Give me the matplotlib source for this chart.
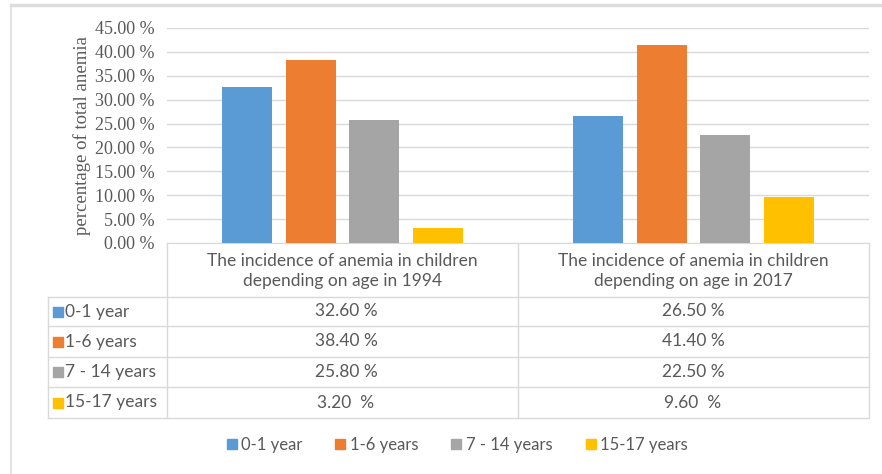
import matplotlib.pyplot as plt
from matplotlib.lines import Line2D
import numpy as np

groups = ['The incidence of anemia in children\ndepending on age in 1994',
          'The incidence of anemia in children\ndepending on age in 2017']
ages = ['0-1 year', '1-6 years', '7 - 14 years', '15-17 years']
val_1994 = [32.6, 38.4, 25.8, 3.2]
val_2017 = [26.5, 41.4, 22.5, 9.6]
cell_1994 = ['32.60 %', '38.40 %', '25.80 %', '3.20  %']
cell_2017 = ['26.50 %', '41.40 %', '22.50 %', '9.60  %']
colors = ['#5B9BD5', '#ED7D31', '#A5A5A5', '#FFC000']
yticks = np.arange(0, 46, 5)

W, H = 882, 474
fig = plt.figure(figsize=(W / 100, H / 100), dpi=100)

def px(x0, y0, x1, y1):
    return [x0 / W, 1 - y1 / H, (x1 - x0) / W, (y1 - y0) / H]

sans = ['Lato', 'DejaVu Sans']
serif = ['Liberation Serif', 'DejaVu Serif']
txt = '#595959'
grid = '#D9D9D9'

# overlay axes in pixel coords for frame and table
bg = fig.add_axes([0, 0, 1, 1])
bg.set_xlim(0, W)
bg.set_ylim(H, 0)
bg.axis('off')
bg.plot([11, 11], [5, H], color='#DDDDDD', lw=1.2)
bg.plot([11, W], [5, 5], color='#DDDDDD', lw=2.5)

# main bar chart
ax = fig.add_axes(px(167, 28, 869, 243))
x = np.array([0.5, 1.5])
bw = 0.1425
step = 0.182
for i in range(4):
    ax.bar(x + (i - 1.5) * step, [val_1994[i], val_2017[i]], width=bw,
           color=colors[i], zorder=3)
ax.set_xlim(0, 2)
ax.set_ylim(0, 45)
ax.set_yticks(yticks)
ax.set_yticklabels(['%.2f %%' % v for v in yticks], family=serif,
                   fontsize=13, color=txt)
ax.set_xticks([])
ax.tick_params(axis='y', length=0, pad=9)
ax.grid(axis='y', color=grid, lw=1, zorder=0)
for s in ['top', 'right', 'left']:
    ax.spines[s].set_visible(False)
ax.spines['bottom'].set_color(grid)
ax.set_ylabel('percentage of total anemia', family=serif, fontsize=13.5,
              color=txt, labelpad=3)

# data table below
tx0, tc1, tc2, tx1 = 48, 167, 518, 869
rows = [243, 297, 326, 357, 387, 418]
for yv in rows[1:]:
    bg.plot([tx0, tx1], [yv, yv], color=grid, lw=1)
for xv in [tc1, tc2, tx1]:
    bg.plot([xv, xv], [rows[0], rows[-1]], color=grid, lw=1)
bg.plot([tx0, tx0], [rows[1], rows[-1]], color=grid, lw=1)

for j, g in enumerate(groups):
    cx = (tc1 + tc2) / 2 if j == 0 else (tc2 + tx1) / 2
    bg.text(cx, (rows[0] + rows[1]) / 2 + 1, g, ha='center', va='center',
            family=sans, fontsize=12.5, color=txt, linespacing=1.3)

for i in range(4):
    yc = (rows[i + 1] + rows[i + 2]) / 2
    bg.scatter([58], [yc], marker='s', s=60, color=colors[i])
    bg.text(65, yc, ages[i], ha='left', va='center', family=sans,
            fontsize=12.5, color=txt)
    bg.text(346, yc, cell_1994[i], ha='center', va='center', family=sans,
            fontsize=12.5, color=txt)
    bg.text(693, yc, cell_2017[i], ha='center', va='center', family=sans,
            fontsize=12.5, color=txt)

handles = [Line2D([], [], marker='s', ls='', markersize=7.5, color=c) for c in colors]
fig.legend(handles, ages, loc='center', bbox_to_anchor=(457 / W, 1 - 445 / H),
           ncol=4, frameon=False, handlelength=0.6, handletextpad=0.25,
           columnspacing=2.0, prop={'family': sans, 'size': 12},
           labelcolor=txt)

fig.savefig('out.png', dpi=100)
